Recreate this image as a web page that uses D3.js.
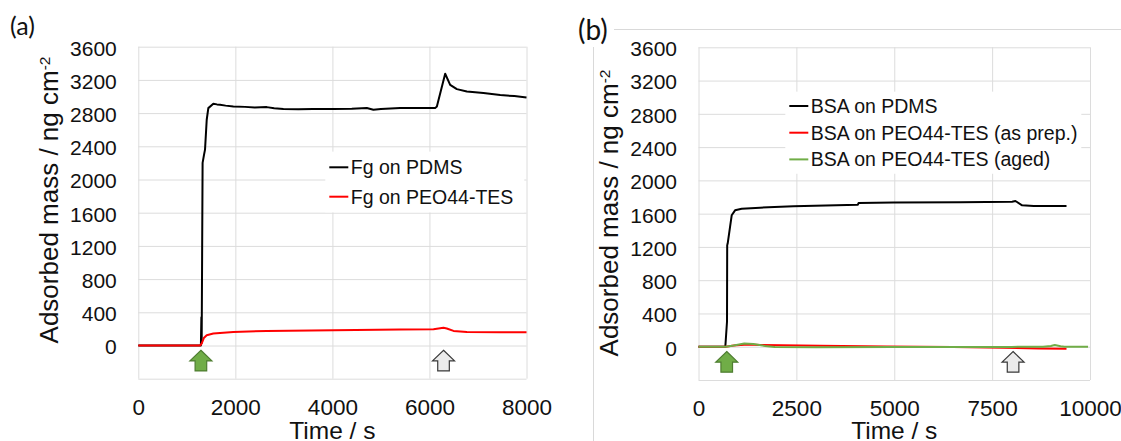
<!DOCTYPE html>
<html>
<head>
<meta charset="utf-8">
<script src="https://cdn.jsdelivr.net/npm/d3@7"></script>
<style>
  body { margin: 0; background: #fff; }
  svg { display: block; font-family: "Liberation Sans", Arial, sans-serif; }
</style>
</head>
<body>
<div id="chart"></div>
<script>
// ---- data: [time (s), adsorbed mass (ng cm-2)] ----
const fgOnPdms = [[0,0],[1290,0],[1300,340],[1306,30],[1325,2200],[1355,2300],[1375,2360],[1410,2720],
  [1443,2860],[1546,2912],[1620,2905],[1685,2900],[1800,2890],[1959,2879],[2200,2875],[2400,2868],
  [2647,2872],[2800,2858],[2990,2848],[3300,2845],[3600,2850],[4021,2848],[4400,2852],[4709,2862],
  [4845,2840],[5000,2850],[5396,2860],[5800,2862],[6117,2860],[6153,2879],[6324,3274],[6427,3141],
  [6565,3089],[6771,3060],[7113,3041],[7458,3017],[7750,3005],[8000,2988]];
const fgOnPeo = [[0,0],[1272,0],[1307,24],[1350,90],[1410,124],[1546,145],[1959,164],[2647,176],
  [4021,185],[5396,193],[6083,197],[6186,205],[6289,213],[6358,205],[6496,176],[6771,164],[7458,160],[8000,160]];

const bsaOnPdms = [[0,0],[685,0],[728,300],[733,1220],[745,1240],[806,1440],[848,1580],[934,1640],
  [1104,1660],[1573,1672],[2425,1688],[4071,1708],[4088,1728],[4983,1733],[6688,1736],[8010,1744],
  [8095,1752],[8266,1700],[8563,1692],[9400,1692]];
const bsaOnPeoPrep = [[0,0],[700,0],[900,15],[1250,28],[1600,20],[3100,12],[4800,4],[6500,-4],
  [7800,-12],[8700,-20],[9400,-24]];
const bsaOnPeoAged = [[0,0],[700,0],[900,15],[1170,40],[1400,32],[1700,10],[1950,-4],[3000,-6],
  [5000,-4],[7000,-4],[8000,-2],[8800,0],[9000,10],[9100,20],[9250,5],[9350,0],[9950,0]];

const yGrid = [-400,0,400,800,1200,1600,2000,2400,2800,3200,3600];
const yTicks = [0,400,800,1200,1600,2000,2400,2800,3200,3600];
const xTicksA = [0,2000,4000,6000,8000];
const xTicksB = [0,2500,5000,7500,10000];

const legendA = ["Fg on PDMS", "Fg on PEO44-TES"];
const legendB = ["BSA on PDMS", "BSA on PEO44-TES (as prep.)", "BSA on PEO44-TES (aged)"];

// arrow times: protein injection (green) and rinse (grey)
const arrowsA = [1290, 6290];
const arrowsB = [721, 8035];

const W = 1121, H = 441;
const fmt = d3.format("d");
const svg = d3.select("#chart").append("svg").attr("width", W).attr("height", H);

function panel(cfg) {
  const x = d3.scaleLinear().domain(cfg.xDomain).range([cfg.x0, cfg.x1]);
  const y = d3.scaleLinear().domain([-400, 3600]).range([cfg.yBot, cfg.yTop]);
  const g = svg.append("g");

  // gridlines
  g.append("g")
    .attr("transform", `translate(${cfg.x0},0)`)
    .call(d3.axisLeft(y).tickValues(yGrid).tickSize(-(cfg.x1 - cfg.x0)).tickFormat(""))
    .call(s => s.select(".domain").remove())
    .call(s => s.selectAll("line").attr("stroke", "#dcdcdc"));
  g.append("g")
    .attr("transform", `translate(0,${cfg.yBot})`)
    .call(d3.axisBottom(x).tickValues(cfg.xTicks).tickSize(-(cfg.yBot - cfg.yTop)).tickFormat(""))
    .call(s => s.select(".domain").remove())
    .call(s => s.selectAll("line").attr("stroke", "#dcdcdc"));

  // tick labels
  g.append("g")
    .attr("transform", `translate(${cfg.x0},0)`)
    .call(d3.axisLeft(y).tickValues(yTicks).tickFormat(fmt).tickSize(0).tickPadding(21.5))
    .call(s => s.select(".domain").remove())
    .call(s => s.selectAll("text").attr("font-size", 21).attr("dy", "0.4em")
      .attr("fill", "#111").attr("font-family", "Liberation Sans, Arial, sans-serif"));
  g.append("g")
    .attr("transform", `translate(0,${cfg.yBot})`)
    .call(d3.axisBottom(x).tickValues(cfg.xTicks).tickFormat(fmt).tickSize(0).tickPadding(20))
    .call(s => s.select(".domain").remove())
    .call(s => s.selectAll("text").attr("font-size", 22.5)
      .attr("fill", "#111").attr("font-family", "Liberation Sans, Arial, sans-serif"));

  // axis titles
  g.append("text")
    .attr("x", (cfg.x0 + cfg.x1) / 2).attr("y", 439)
    .attr("text-anchor", "middle").attr("font-size", 24.5).attr("fill", "#111")
    .text("Time / s");
  const yt = g.append("text")
    .attr("transform", `translate(${cfg.yTitleX},${cfg.yTitleY}) rotate(-90)`)
    .attr("text-anchor", "middle").attr("font-size", 26).attr("fill", "#111");
  yt.append("tspan").text("Adsorbed mass / ng cm");
  yt.append("tspan").attr("font-size", 15.5).attr("baseline-shift", "super").text("-2");

  // legend (white box over gridlines)
  const lg = g.append("g");
  lg.append("rect")
    .attr("x", cfg.legend.x - 4).attr("y", cfg.legend.y - cfg.legend.step / 2 - 1)
    .attr("width", cfg.legend.w).attr("height", cfg.legend.step * cfg.series.length + 2)
    .attr("fill", "#fff");
  cfg.series.forEach((s, i) => {
    const ly = cfg.legend.y + i * cfg.legend.step;
    lg.append("line").attr("x1", cfg.legend.x).attr("x2", cfg.legend.x + 19)
      .attr("y1", ly).attr("y2", ly).attr("stroke", s.color).attr("stroke-width", 2);
    lg.append("text").attr("x", cfg.legend.x + 21.5).attr("y", ly).attr("dy", "0.36em")
      .attr("font-size", 19.5).attr("fill", "#111").text(s.name);
  });

  // series
  const line = d3.line().x(d => x(d[0])).y(d => y(d[1]));
  cfg.series.forEach(s => {
    g.append("path").datum(s.data)
      .attr("fill", "none").attr("stroke", s.color)
      .attr("stroke-width", 2).attr("stroke-linejoin", "round")
      .attr("d", line);
  });

  // arrows
  const arrowPath = "M0,0 L11,10.7 L5.8,10.7 L5.8,20.7 L-5.8,20.7 L-5.8,10.7 L-11,10.7 Z";
  const arrowStyle = [
    { fill: "#70ad47", stroke: "#4e7d31" },
    { fill: "#ebebeb", stroke: "#3a3a3a" }
  ];
  cfg.arrows.forEach((t, i) => {
    g.append("path")
      .attr("transform", `translate(${x(t)},${y(-57)})`)
      .attr("d", arrowPath)
      .attr("fill", arrowStyle[i].fill)
      .attr("stroke", arrowStyle[i].stroke)
      .attr("stroke-width", 1.2);
  });
}

// outline of panel (b) chart area
svg.append("line").attr("x1", 593.5).attr("x2", W).attr("y1", 29.5).attr("y2", 29.5)
  .attr("stroke", "#d9d9d9");
svg.append("line").attr("x1", 593.5).attr("x2", 593.5).attr("y1", 29.5).attr("y2", H)
  .attr("stroke", "#d9d9d9");

panel({
  x0: 138.3, x1: 526.5, yTop: 46.7, yBot: 378.7,
  xDomain: [0, 8000], xTicks: xTicksA,
  yTitleX: 58, yTitleY: 200,
  legend: { x: 329.3, y: 167.3, step: 29.4, w: 199 },
  series: [
    { name: legendA[0], data: fgOnPdms, color: "#000" },
    { name: legendA[1], data: fgOnPeo, color: "#ff0000" }
  ],
  arrows: arrowsA
});

panel({
  x0: 698.5, x1: 1090, yTop: 47.3, yBot: 380,
  xDomain: [0, 10000], xTicks: xTicksB,
  yTitleX: 618, yTitleY: 213,
  legend: { x: 789.3, y: 106, step: 26.7, w: 296 },
  series: [
    { name: legendB[0], data: bsaOnPdms, color: "#000" },
    { name: legendB[1], data: bsaOnPeoPrep, color: "#ff0000" },
    { name: legendB[2], data: bsaOnPeoAged, color: "#70ad47" }
  ],
  arrows: arrowsB
});

// panel letters
svg.append("text").attr("x", 10).attr("y", 35)
  .attr("font-family", "Lato, 'Open Sans', sans-serif").attr("font-size", 25).attr("fill", "#111")
  .text("(a)");
svg.append("rect").attr("x", 576).attr("y", 14).attr("width", 38).attr("height", 33).attr("fill", "#fff");
svg.append("text").attr("x", 578).attr("y", 39.5)
  .attr("font-family", "Lato, 'Open Sans', sans-serif").attr("font-size", 28).attr("fill", "#111")
  .text("(b)");
</script>
</body>
</html>
